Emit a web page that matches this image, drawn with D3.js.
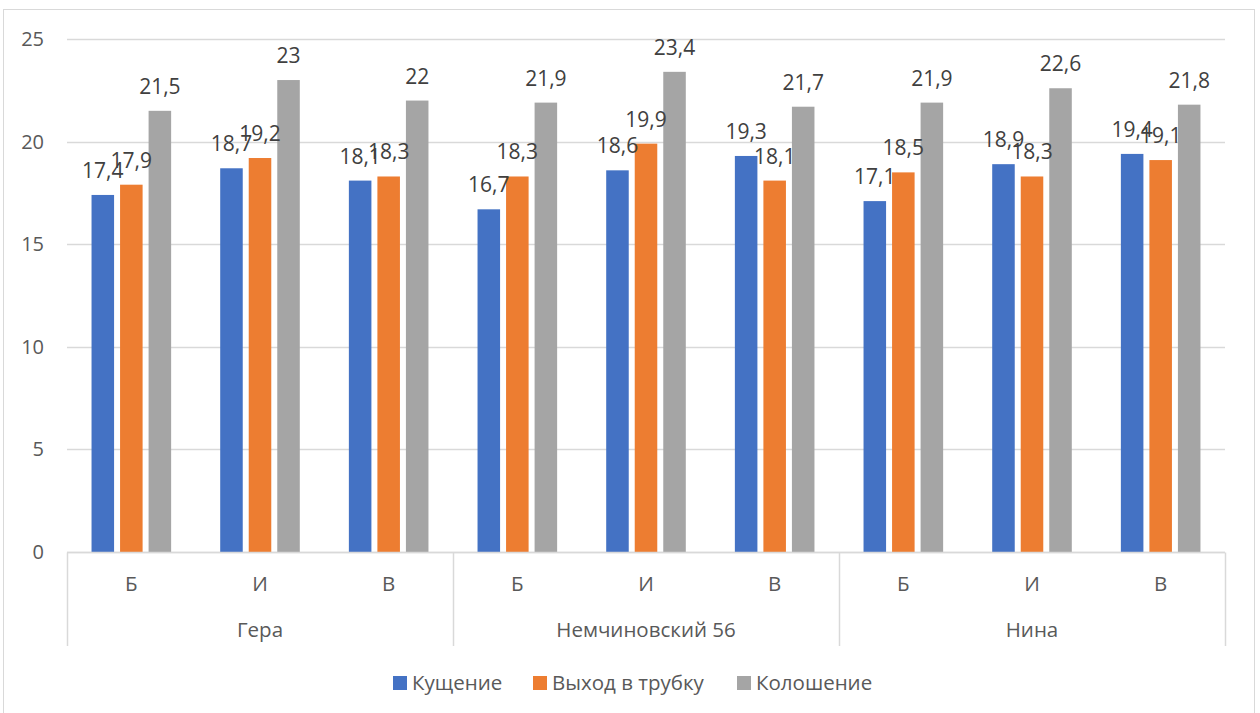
<!DOCTYPE html>
<html>
<head>
<meta charset="utf-8">
<script src="https://cdn.jsdelivr.net/npm/d3@7"></script>
<style>
  body { margin: 0; background: #fff; }
  text { font-family: "Segoe UI", "Open Sans", "Noto Sans", sans-serif; }
</style>
</head>
<body>
<div id="chart"></div>
<script>
const varieties = ["Гера", "Немчиновский 56", "Нина"]
const subcats = ["Б", "И", "В"]
const series = ["Кущение", "Выход в трубку", "Колошение"]
const colors = ["#4472c4", "#ed7d31", "#a5a5a5"]

// values per variety, per subcategory: [кущение, выход в трубку, колошение]
const gera = [[17.4, 17.9, 21.5], [18.7, 19.2, 23], [18.1, 18.3, 22]]
const nemch = [[16.7, 18.3, 21.9], [18.6, 19.9, 23.4], [19.3, 18.1, 21.7]]
const nina = [[17.1, 18.5, 21.9], [18.9, 18.3, 22.6], [19.4, 19.1, 21.8]]
const yTicks = [0, 5, 10, 15, 20, 25]

const allValues = [gera, nemch, nina]

const width = 1260
const height = 713
const margin = {left: 67, right: 35, top: 39, bottom: 161}

const svg = d3.select("#chart").append("svg")
    .attr("width", width)
    .attr("height", height)

svg.append("rect")
    .attr("x", 3.5).attr("y", 9.5)
    .attr("width", 1251).attr("height", 710)
    .attr("fill", "none")
    .attr("stroke", "#d9d9d9")

// flatten into 9 category slots
const cats = []
varieties.forEach((v, i) => subcats.forEach((s, j) => {
    cats.push({key: v + "|" + s, variety: v, sub: s, values: allValues[i][j]})
}))

const x = d3.scaleBand()
    .domain(cats.map(d => d.key))
    .range([margin.left, width - margin.right])
    .padding(0)

const xInner = d3.scaleBand()
    .domain(series)
    .range([0, x.bandwidth()])
    .paddingInner(0.21)
    .paddingOuter(0.86)

const y = d3.scaleLinear()
    .domain([0, 25])
    .range([height - margin.bottom, margin.top])

// gridlines
svg.append("g")
    .selectAll("line")
    .data(yTicks)
    .join("line")
    .attr("x1", margin.left)
    .attr("x2", width - margin.right)
    .attr("y1", d => Math.round(y(d)) + 0.5)
    .attr("y2", d => Math.round(y(d)) + 0.5)
    .attr("stroke", "#d9d9d9")
    .attr("stroke-width", 1.5)

svg.append("g")
    .selectAll("text")
    .data(yTicks)
    .join("text")
    .attr("x", 44)
    .attr("y", d => y(d))
    .attr("dy", "0.35em")
    .attr("text-anchor", "end")
    .attr("fill", "#595959")
    .attr("font-size", 20)
    .text(d => d)

// bars
const groups = svg.append("g")
    .selectAll("g")
    .data(cats)
    .join("g")
    .attr("transform", d => `translate(${x(d.key)},0)`)

groups.selectAll("rect")
    .data(d => d.values.map((v, i) => ({s: series[i], v: v, c: colors[i]})))
    .join("rect")
    .attr("x", d => xInner(d.s))
    .attr("width", xInner.bandwidth())
    .attr("y", d => y(d.v))
    .attr("height", d => y(0) - y(d.v))
    .attr("fill", d => d.c)

groups.selectAll("text")
    .data(d => d.values.map((v, i) => ({s: series[i], v: v})))
    .join("text")
    .attr("x", d => xInner(d.s) + xInner.bandwidth() / 2)
    .attr("y", d => y(d.v) - 17)
    .attr("text-anchor", "middle")
    .attr("fill", "#404040")
    .attr("font-size", 21)
    .text(d => String(d.v).replace(".", ","))

// multi-level category axis
const axisY = Math.round(y(0)) + 0.5
const axisBottom = 646
svg.append("line")
    .attr("x1", margin.left).attr("x2", width - margin.right)
    .attr("y1", axisY).attr("y2", axisY)
    .attr("stroke", "#d9d9d9").attr("stroke-width", 1.5)

const sepX = [0, 3, 6, 9].map(i => i < 9 ? x(cats[i].key) : x.range()[1])
svg.append("g")
    .selectAll("line")
    .data(sepX)
    .join("line")
    .attr("x1", d => Math.round(d) + 0.5)
    .attr("x2", d => Math.round(d) + 0.5)
    .attr("y1", axisY)
    .attr("y2", axisBottom)
    .attr("stroke", "#d9d9d9")
    .attr("stroke-width", 1.5)

svg.append("g")
    .selectAll("text")
    .data(cats)
    .join("text")
    .attr("x", d => x(d.key) + x.bandwidth() / 2)
    .attr("y", 591)
    .attr("text-anchor", "middle")
    .attr("fill", "#595959")
    .attr("font-size", 20.5)
    .text(d => d.sub)

svg.append("g")
    .selectAll("text")
    .data(varieties)
    .join("text")
    .attr("x", (d, i) => (sepX[i] + sepX[i + 1]) / 2)
    .attr("y", 637)
    .attr("text-anchor", "middle")
    .attr("fill", "#595959")
    .attr("font-size", 20.5)
    .text(d => d)

// legend
const legendX = [393, 533, 737]
const legend = svg.append("g")
    .selectAll("g")
    .data(series)
    .join("g")
    .attr("transform", (d, i) => `translate(${legendX[i]},676)`)

legend.append("rect")
    .attr("width", 14).attr("height", 14)
    .attr("fill", (d, i) => colors[i])

legend.append("text")
    .attr("x", 19)
    .attr("y", 7)
    .attr("dy", "0.35em")
    .attr("fill", "#595959")
    .attr("font-size", 20.5)
    .text(d => d)
</script>
</body>
</html>
